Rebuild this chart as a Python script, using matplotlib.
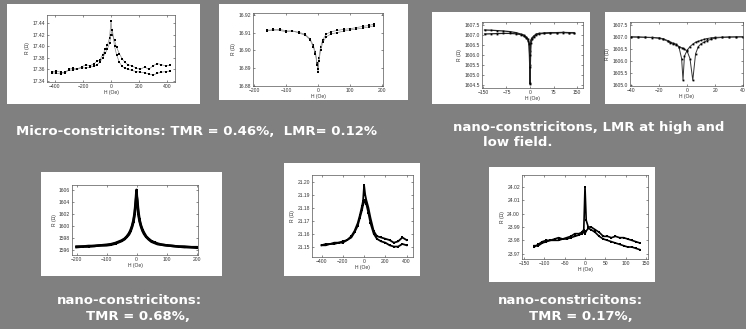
import matplotlib
matplotlib.use("Agg")
import matplotlib.pyplot as plt
from matplotlib.patches import Rectangle

W, H = 746, 329

# ---- data ----
# micro-constriction, high field
h1 = [-420, -390, -360, -330, -300, -270, -240, -210, -180, -150, -120, -100, -80, -60, -40, -25, -10, 0,
      10, 25, 40, 60, 80, 100, 120, 150, 180, 210, 240, 270, 300, 330, 360, 390, 420]
r1a = [17.356, 17.357, 17.355, 17.353, 17.360, 17.362, 17.361, 17.364, 17.368, 17.366, 17.370, 17.374, 17.376,
       17.385, 17.395, 17.402, 17.415, 17.444, 17.420, 17.410, 17.398, 17.387, 17.378, 17.372, 17.368, 17.366,
       17.362, 17.360, 17.364, 17.360, 17.366, 17.370, 17.368, 17.366, 17.367]
r1b = [17.354, 17.353, 17.352, 17.356, 17.358, 17.359, 17.360, 17.363, 17.362, 17.364, 17.365, 17.368, 17.372,
       17.380, 17.388, 17.396, 17.405, 17.420, 17.428, 17.400, 17.385, 17.372, 17.365, 17.362, 17.360, 17.358,
       17.356, 17.355, 17.354, 17.352, 17.350, 17.353, 17.355, 17.356, 17.357]

# micro-constriction, low field
h2 = [-160, -140, -120, -100, -80, -60, -40, -25, -15, -8, -3, 0, 3, 8, 15, 25, 40, 60, 80, 100, 120, 140, 160, 175]
r2a = [16.9115, 16.9112, 16.9118, 16.9110, 16.9108, 16.9102, 16.9090, 16.9065, 16.9030, 16.8990, 16.8930, 16.8880,
       16.8960, 16.9020, 16.9060, 16.9090, 16.9105, 16.9112, 16.9118, 16.9122, 16.9128, 16.9135, 16.9140, 16.9148]
r2b = [16.9108, 16.9118, 16.9112, 16.9105, 16.9110, 16.9098, 16.9085, 16.9060, 16.9020, 16.8980, 16.8920, 16.8895,
       16.8940, 16.9000, 16.9045, 16.9075, 16.9092, 16.9100, 16.9108, 16.9115, 16.9120, 16.9125, 16.9132, 16.9138]

# nano-constriction LMR, high field
h3 = [-145, -125, -105, -85, -65, -45, -30, -20, -12, -6, -3, -1, 0, 1, 3, 6, 12, 20, 30, 45, 65, 85, 105, 125, 140]
r3a = [1607.25, 1607.24, 1607.22, 1607.20, 1607.17, 1607.12, 1607.05, 1607.00, 1606.90, 1606.80, 1606.60, 1605.50,
       1604.55, 1606.20, 1606.75, 1606.85, 1606.95, 1607.05, 1607.08, 1607.10, 1607.12, 1607.12, 1607.13, 1607.12, 1607.12]
r3b = [1607.05, 1607.06, 1607.07, 1607.08, 1607.08, 1607.06, 1607.02, 1606.95, 1606.85, 1606.72, 1606.55, 1606.00,
       1604.60, 1605.40, 1606.60, 1606.80, 1606.92, 1607.02, 1607.06, 1607.08, 1607.10, 1607.11, 1607.12, 1607.11, 1607.10]

# nano-constriction LMR, low field
h4 = [-40, -35, -30, -25, -20, -17, -14, -12, -10, -8, -6, -4, -3, -2, 0, 2, 4, 6, 8, 10, 12, 14, 17, 20, 25, 30, 35, 40]
r4a = [1607.00, 1607.00, 1606.99, 1606.98, 1606.96, 1606.92, 1606.85, 1606.78, 1606.74, 1606.70, 1606.60, 1606.10,
       1605.20, 1606.20, 1606.45, 1606.60, 1606.70, 1606.78, 1606.82, 1606.86, 1606.90, 1606.93, 1606.96, 1606.98,
       1606.99, 1607.00, 1607.00, 1607.01]
r4b = [1607.00, 1606.99, 1606.98, 1606.97, 1606.94, 1606.90, 1606.82, 1606.75, 1606.70, 1606.66, 1606.60, 1606.55,
       1606.52, 1606.50, 1606.40, 1606.10, 1605.20, 1606.30, 1606.60, 1606.72, 1606.78, 1606.84, 1606.90, 1606.95,
       1606.98, 1606.99, 1607.00, 1607.00]

# nano-constriction TMR 0.68%
h5 = [-200, -180, -160, -140, -120, -100, -85, -70, -60, -50, -40, -32, -25, -20, -15, -10, -6, -3, 0,
      3, 6, 10, 15, 20, 25, 32, 40, 50, 60, 70, 85, 100, 120, 140, 160, 180, 200]
r5a = [1596.6, 1596.6, 1596.7, 1596.7, 1596.8, 1596.9, 1597.0, 1597.2, 1597.4, 1597.6, 1597.9, 1598.3, 1598.8,
       1599.3, 1600.0, 1601.0, 1602.3, 1604.0, 1606.0, 1603.6, 1602.0, 1600.8, 1599.9, 1599.2, 1598.7, 1598.2,
       1597.8, 1597.4, 1597.2, 1597.0, 1596.9, 1596.8, 1596.7, 1596.6, 1596.6, 1596.5, 1596.5]
r5b = [1596.5, 1596.6, 1596.6, 1596.7, 1596.8, 1596.8, 1596.9, 1597.1, 1597.3, 1597.5, 1597.8, 1598.2, 1598.6,
       1599.1, 1599.8, 1600.7, 1602.0, 1603.5, 1605.2, 1604.2, 1602.5, 1601.1, 1600.1, 1599.4, 1598.9, 1598.3,
       1597.9, 1597.5, 1597.3, 1597.1, 1596.9, 1596.8, 1596.7, 1596.6, 1596.5, 1596.5, 1596.4]

# middle bottom plot
h6 = [-400, -360, -320, -280, -240, -200, -160, -120, -90, -60, -40, -20, -10, 0, 10, 20, 40, 60, 90, 120,
      160, 200, 240, 280, 320, 360, 400]
r6a = [21.151, 21.152, 21.152, 21.153, 21.153, 21.154, 21.155, 21.158, 21.162, 21.168, 21.174, 21.181, 21.185,
       21.197, 21.190, 21.186, 21.180, 21.172, 21.162, 21.158, 21.157, 21.156, 21.155, 21.153, 21.154, 21.157, 21.155]
r6b = [21.151, 21.151, 21.152, 21.152, 21.153, 21.153, 21.155, 21.157, 21.161, 21.166, 21.172, 21.178, 21.182,
       21.184, 21.186, 21.183, 21.176, 21.168, 21.160, 21.156, 21.154, 21.153, 21.151, 21.150, 21.150, 21.152, 21.151]

# nano-constriction TMR 0.17%
h7 = [-125, -115, -105, -95, -85, -75, -65, -55, -45, -35, -25, -15, -8, -3, 0, 3, 8, 15, 25, 35, 45, 55, 65,
      75, 85, 95, 105, 115, 125, 135]
r7a = [23.975, 23.977, 23.979, 23.980, 23.980, 23.981, 23.982, 23.981, 23.982, 23.983, 23.985, 23.985, 23.986,
       23.988, 24.020, 23.995, 23.990, 23.990, 23.988, 23.986, 23.983, 23.983, 23.982, 23.983, 23.982, 23.982,
       23.981, 23.980, 23.979, 23.978]
r7b = [23.976, 23.976, 23.978, 23.979, 23.980, 23.980, 23.980, 23.981, 23.981, 23.982, 23.983, 23.984, 23.985,
       23.986, 23.985, 23.987, 23.989, 23.988, 23.986, 23.983, 23.981, 23.980, 23.979, 23.978, 23.977, 23.976,
       23.975, 23.975, 23.974, 23.973]

captions = ["Micro-constricitons: TMR = 0.46%,  LMR= 0.12%",
            "nano-constricitons, LMR at high and", "low field.",
            "nano-constricitons:", "TMR = 0.68%,",
            "nano-constricitons:", "TMR = 0.17%,"]

plt.rcParams['font.family'] = ['Liberation Sans', 'DejaVu Sans']

fig = plt.figure(figsize=(W / 100, H / 100), dpi=100)
fig.patch.set_facecolor('#808080')


def panel(x0, y0, x1, y1):
    # white slide box, pixel coords from top-left
    fig.patches.append(Rectangle((x0 / W, 1 - y1 / H), (x1 - x0) / W, (y1 - y0) / H,
                                 transform=fig.transFigure, facecolor='white', edgecolor='none', zorder=-5))


def small_plot(box, h, ra, rb, xlim, ylim, xt, yt, yfmt, col='#888888', lw=0.5, ms=1.5):
    x0, y0, x1, y1 = box
    ax = fig.add_axes([x0 / W, 1 - y1 / H, (x1 - x0) / W, (y1 - y0) / H], zorder=2)
    ax.set_facecolor('white')
    ax.plot(h, ra, color=col, lw=lw, marker='s', ms=ms, mfc='black', mec='black', mew=0)
    ax.plot(h, rb, color=col, lw=lw, marker='s', ms=ms, mfc='black', mec='black', mew=0)
    ax.set_xlim(xlim)
    ax.set_ylim(ylim)
    ax.set_xticks(xt)
    ax.set_yticks(yt)
    ax.set_yticklabels([yfmt % v for v in yt])
    ax.tick_params(direction='in', length=1.5, width=0.4, labelsize=3.6, pad=1.5,
                   top=True, right=True, colors='#333333')
    for s in ax.spines.values():
        s.set_linewidth(0.5)
        s.set_color('#555555')
    ax.set_xlabel("H (Oe)", fontsize=3.6, labelpad=1, color='#333333')
    ax.set_ylabel("R (Ω)", fontsize=3.6, labelpad=1.5, color='#333333')
    return ax


# white panels
panel(7, 4, 200, 104)
panel(219, 4, 408, 100)
panel(432, 12, 590, 104)
panel(605, 12, 746, 104)
panel(41, 172, 222, 276)
panel(284, 163, 420, 276)
panel(489, 167, 655, 282)

small_plot((47, 15, 175, 82), h1, r1a, r1b, (-457, 457), (17.338, 17.454),
           [-400, -200, 0, 200, 400], [17.34, 17.36, 17.38, 17.40, 17.42, 17.44], "%.2f")
small_plot((253, 13, 383, 86), h2, r2a, r2b, (-203, 203), (16.88, 16.921),
           [-200, -100, 0, 100, 200], [16.88, 16.89, 16.90, 16.91, 16.92], "%.2f")
small_plot((482, 22, 583, 88), h3, r3a, r3b, (-153, 169), (1604.35, 1607.65),
           [-150, -75, 0, 75, 150], [1604.5, 1605.0, 1605.5, 1606.0, 1606.5, 1607.0, 1607.5], "%.1f",
           col='#222222', lw=0.9, ms=1.3)
small_plot((630, 22, 743, 86), h4, r4a, r4b, (-41, 40), (1604.96, 1607.62),
           [-40, -20, 0, 20, 40], [1605.0, 1605.5, 1606.0, 1606.5, 1607.0, 1607.5], "%.1f",
           col='#333333', lw=0.7, ms=1.3)
small_plot((72, 185, 198, 255), h5, r5a, r5b, (-215, 205), (1595.2, 1606.8),
           [-200, -100, 0, 100, 200], [1596, 1598, 1600, 1602, 1604, 1606], "%d",
           col='black', lw=1.8, ms=1.6)
small_plot((312, 175, 413, 257), h6, r6a, r6b, (-490, 460), (21.142, 21.205),
           [-400, -200, 0, 200, 400], [21.15, 21.16, 21.17, 21.18, 21.19, 21.20], "%.2f",
           col='black', lw=1.3, ms=1.6)
small_plot((522, 175, 648, 259), h7, r7a, r7b, (-155, 155), (23.966, 24.029),
           [-150, -100, -50, 0, 50, 100, 150], [23.97, 23.98, 23.99, 24.00, 24.01, 24.02], "%.2f",
           col='black', lw=1.2, ms=1.6)

# captions (left x, centre y in pixels)
cap_pos = [(16, 131), (453, 127), (483, 142), (57, 300), (86, 316), (498, 300), (529, 316)]
for txt, (x, y) in zip(captions, cap_pos):
    fig.text(x / W, 1 - y / H, txt, color='white', fontsize=9.5, fontweight='bold',
             family='DejaVu Sans', ha='left', va='center')

fig.savefig("out.png", dpi=100, facecolor=fig.get_facecolor())
